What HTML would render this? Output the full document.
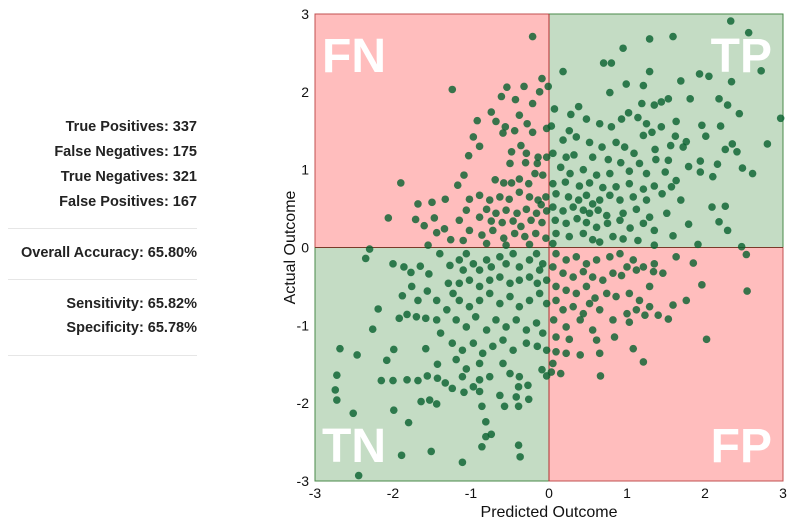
<!DOCTYPE html>
<html><head><meta charset="utf-8"><style>
body{margin:0;width:800px;height:525px;background:#fff;overflow:hidden;font-family:"Liberation Sans",sans-serif}
#panel{position:absolute;left:0;top:0;width:200px}
.st{position:absolute;right:3px;font-weight:bold;font-size:14.5px;color:#222;white-space:nowrap}
.sep{position:absolute;left:8px;width:189px;height:1px;background:#e6e6e6}
svg{position:absolute;left:0;top:0}
</style></head><body>
<div id="panel">
<div class="st" style="top:119px">True Positives: 337</div>
<div class="st" style="top:144px">False Negatives: 175</div>
<div class="st" style="top:169px">True Negatives: 321</div>
<div class="st" style="top:194px">False Positives: 167</div>
<div class="sep" style="top:228px"></div>
<div class="st" style="top:245px">Overall Accuracy: 65.80%</div>
<div class="sep" style="top:279px"></div>
<div class="st" style="top:296px">Sensitivity: 65.82%</div>
<div class="st" style="top:320px">Specificity: 65.78%</div>
<div class="sep" style="top:355px"></div>
</div>
<svg id="chart" width="800" height="525"></svg>
<script>
const xTicks=[-3,-2,-1,0,1,2,3];
const yTicks=[-3,-2,-1,0,1,2,3];
const quadrantLabels=["FN","TP","TN","FP"];
const points=[
[-0.21,2.71],[-1.24,2.03],[-0.54,2.06],[-0.32,2.07],[-0.09,2.17],[-0.01,2.07],[-0.61,1.94],[-0.43,1.90],[-0.21,1.85],[-0.12,2.0],
[-0.74,1.74],[-0.92,1.63],[-0.68,1.62],[-0.56,1.55],[-0.38,1.70],[-0.28,1.59],[-0.44,1.50],[-0.97,1.42],[-0.89,1.30],[-1.03,1.18],[-0.59,1.47],[-0.21,1.48],[-0.03,1.53],
[-0.36,1.31],[-0.48,1.23],[-0.29,1.21],[-0.14,1.16],[-0.03,1.16],[-0.50,1.08],[-0.30,1.09],[-0.15,1.08],
[-1.09,0.93],[-1.17,0.80],[-1.90,0.83],[-0.69,0.87],[-0.58,0.83],[-0.48,0.83],[-0.38,0.88],[-0.26,0.82],[-0.08,0.93],[-0.18,0.95],
[-1.02,0.62],[-0.89,0.67],[-1.68,0.56],[-1.50,0.58],[-1.33,0.62],[-2.06,0.38],[-1.71,0.36],[-1.60,0.28],[-1.47,0.38],[-1.34,0.24],[-1.44,0.19],
[-0.76,0.61],[-0.63,0.65],[-0.51,0.62],[-0.38,0.71],[-0.25,0.65],[-0.14,0.61],[-0.04,0.65],[-0.10,0.55],
[-0.80,0.49],[-0.68,0.44],[-0.55,0.48],[-0.41,0.44],[-0.29,0.49],[-0.16,0.44],[-0.03,0.47],[-1.06,0.48],
[-0.89,0.39],[-0.74,0.34],[-0.60,0.32],[-0.46,0.34],[-0.36,0.27],[-0.23,0.35],[-0.09,0.32],[-1.15,0.35],
[-1.02,0.22],[-0.86,0.16],[-0.72,0.22],[-0.58,0.12],[-0.44,0.18],[-0.31,0.14],[-0.17,0.18],[-0.04,0.12],[-1.26,0.10],[-1.10,0.09],[-1.55,0.03],[-0.80,0.05],[-0.55,0.03],[-0.25,0.04],
[2.33,2.91],[2.56,2.76],[1.59,2.71],[1.29,2.68],[0.95,2.56],[2.72,2.27],[1.29,2.26],[0.70,2.37],[0.80,2.37],[0.18,2.26],[1.69,2.14],[1.93,2.23],[2.05,2.20],[2.34,2.13],[0.99,2.10],[1.21,2.08],[0.78,1.99],
[1.53,1.91],[1.81,1.91],[2.18,1.91],[2.29,1.83],[1.19,1.85],[1.35,1.83],[2.44,1.72],[2.97,1.66],[1.44,1.87],
[0.38,1.81],[0.07,1.78],[0.28,1.71],[0.48,1.65],[0.65,1.59],[0.80,1.55],[0.93,1.65],[1.02,1.73],[1.14,1.67],[1.25,1.59],[1.44,1.55],[1.63,1.62],[1.96,1.57],[2.20,1.56],[0.03,1.56],[0.26,1.50],
[1.21,1.44],[1.32,1.48],[1.62,1.43],[1.76,1.36],[2.01,1.43],[2.35,1.33],[2.80,1.33],[2.26,1.26],[2.41,1.23],
[0.18,1.38],[0.35,1.42],[0.52,1.35],[0.68,1.29],[0.86,1.35],[0.97,1.29],[1.09,1.21],[1.36,1.26],[1.56,1.31],[1.72,1.29],
[0.05,1.21],[0.22,1.16],[0.32,1.19],[0.56,1.16],[0.76,1.13],[0.92,1.09],[1.16,1.08],[1.37,1.13],[1.53,1.12],[1.79,1.04],[1.94,1.11],[2.16,1.07],[2.48,1.02],[2.61,0.95],[2.10,0.91],[1.94,0.97],
[0.15,1.03],[0.27,0.95],[0.44,1.00],[0.61,0.93],[0.78,0.95],[1.03,0.98],[1.25,0.95],[1.49,0.97],[1.63,0.86],
[0.05,0.82],[0.21,0.84],[0.39,0.79],[0.52,0.83],[0.69,0.77],[0.86,0.78],[1.03,0.82],[1.21,0.75],[1.35,0.79],[1.57,0.78],[1.69,0.61],[2.09,0.52],[2.26,0.53],
[0.09,0.69],[0.25,0.65],[0.38,0.61],[0.48,0.67],[0.56,0.56],[0.65,0.61],[0.78,0.67],[0.91,0.61],[1.08,0.65],[1.25,0.61],[1.45,0.69],
[0.05,0.52],[0.18,0.47],[0.31,0.52],[0.44,0.48],[0.52,0.44],[0.63,0.48],[0.74,0.41],[0.95,0.44],[1.12,0.49],[1.29,0.39],[1.51,0.44],
[0.08,0.35],[0.22,0.31],[0.36,0.37],[0.48,0.32],[0.61,0.26],[0.75,0.31],[0.91,0.35],[1.04,0.25],[1.21,0.31],[1.35,0.22],[1.59,0.15],[1.79,0.30],[2.18,0.33],[2.29,0.22],
[0.09,0.18],[0.26,0.14],[0.44,0.18],[0.56,0.10],[0.82,0.14],[0.95,0.11],[1.14,0.09],[1.35,0.03],[1.91,0.04],[0.05,0.05],[0.65,0.07],
[2.47,0.01],[2.53,-0.09],[2.54,-0.56],[1.96,-0.48],[2.02,-1.18],[1.85,-0.20],[1.76,-0.68],[1.59,-0.74],[1.53,-0.92],[1.40,-0.87],[1.29,-0.50],[1.23,-0.87],[1.21,-1.47],[1.08,-1.30],[1.03,-0.96],[0.84,-1.15],[0.93,-0.36],[0.66,-1.65],[0.40,-1.38],[0.65,-1.36],
[0.09,-0.08],[0.22,-0.16],[0.35,-0.12],[0.48,-0.21],[0.61,-0.16],[0.78,-0.12],[0.91,-0.08],[1.08,-0.16],[1.21,-0.25],[1.35,-0.21],[1.46,-0.33],[1.63,-0.12],
[0.05,-0.25],[0.18,-0.33],[0.31,-0.38],[0.44,-0.31],[0.56,-0.38],[0.69,-0.42],[0.82,-0.33],[1.00,-0.25],[1.12,-0.29],[1.34,-0.31],
[0.09,-0.50],[0.22,-0.55],[0.35,-0.59],[0.48,-0.50],[0.59,-0.65],[0.74,-0.59],[0.86,-0.63],[1.03,-0.59],[1.16,-0.68],[1.29,-0.76],
[0.09,-0.68],[0.18,-0.80],[0.31,-0.76],[0.44,-0.85],[0.52,-0.72],[0.65,-0.80],[0.82,-0.93],[1.00,-0.85],[1.12,-0.80],
[0.06,-0.93],[0.22,-1.02],[0.40,-0.93],[0.56,-1.06],[0.61,-1.19],[0.26,-1.18],[0.09,-1.15],[0.09,-1.34],[0.22,-1.36],[0.05,-1.49],[0.15,-1.62],[0.03,-1.60],
[-2.44,-2.93],[-1.11,-2.76],[-1.89,-2.67],[-1.51,-2.62],[-0.37,-2.69],[-0.86,-2.56],[-0.39,-2.54],[-0.81,-2.43],[-0.74,-2.40],[-0.81,-2.24],[-1.80,-2.25],[-2.51,-2.13],[-1.99,-2.09],[-2.74,-1.83],[-2.72,-1.96],[-2.72,-1.64],[-2.68,-1.30],[-2.46,-1.38],[-2.26,-1.05],[-2.19,-0.79],[-2.15,-1.71],[-2.08,-1.45],[-2.00,-1.71],[-1.99,-1.31],[-1.82,-1.70],[-1.68,-1.71],[-1.64,-1.98],[-1.53,-1.96],[-1.44,-2.01],[-1.56,-1.65],[-1.43,-1.68],[-1.33,-1.74],[-1.24,-1.81],[-1.43,-1.50],[-1.58,-1.30],
[-2.35,-0.14],[-2.30,-0.02],[-2.00,-0.21],[-1.86,-0.25],[-1.77,-0.32],[-1.65,-0.24],[-1.54,-0.34],[-1.92,-0.91],[-1.82,-0.86],[-1.70,-0.89],[-1.88,-0.62],[-1.76,-0.50],[-1.68,-0.68],[-1.56,-0.56],[-1.44,-0.68],[-1.58,-0.91],[-1.44,-0.93],[-1.39,-1.10],[-1.31,-0.80],[-1.23,-0.59],[-1.29,-0.46],
[-1.15,-0.16],[-1.06,-0.08],[-0.97,-0.21],[-1.10,-0.29],[-0.89,-0.29],[-0.80,-0.16],[-0.74,-0.25],[-0.63,-0.12],[-0.55,-0.21],[-0.46,-0.08],[-0.38,-0.25],[-0.25,-0.16],[-0.16,-0.08],[-0.08,-0.21],[-1.40,-0.08],[-1.27,-0.23],
[-1.15,-0.46],[-1.02,-0.42],[-0.89,-0.50],[-0.76,-0.42],[-0.63,-0.38],[-0.50,-0.46],[-0.38,-0.42],[-0.25,-0.38],[-0.15,-0.46],[-0.03,-0.42],[-0.12,-0.29],
[-1.15,-0.68],[-1.02,-0.76],[-0.89,-0.68],[-0.76,-0.59],[-0.63,-0.72],[-0.50,-0.63],[-0.38,-0.76],[-0.25,-0.68],[-0.12,-0.59],[-0.03,-0.72],
[-1.19,-0.93],[-1.06,-1.02],[-0.94,-0.89],[-0.80,-1.06],[-0.68,-0.93],[-0.55,-1.02],[-0.42,-0.93],[-0.29,-1.06],[-0.16,-0.97],[-0.08,-1.10],
[-1.24,-1.23],[-1.11,-1.32],[-0.97,-1.23],[-0.85,-1.36],[-0.72,-1.27],[-0.59,-1.19],[-0.46,-1.32],[-0.29,-1.23],[-0.15,-1.27],[-0.03,-1.32],
[-1.19,-1.44],[-1.06,-1.56],[-0.89,-1.49],[-0.76,-1.66],[-0.59,-1.49],[-0.50,-1.62],[-0.38,-1.66],[-0.09,-1.57],[-0.03,-1.65],[-1.11,-1.66],[-0.97,-1.79],[-0.89,-1.70],[-1.09,-1.86],[-0.89,-1.85],[-0.63,-1.90],[-0.39,-1.79],[-0.27,-1.77],[-0.42,-1.92],[-0.26,-1.95],[-0.86,-2.04],[-0.57,-2.04],[-0.39,-2.04]
];
const NS="http://www.w3.org/2000/svg";
const svg=document.getElementById('chart');
const L=315,R=783,T=14,B=481;
const sx=v=>L+(v+3)/6*(R-L);
const sy=v=>B-(v+3)/6*(B-T);
function mk(tag,attrs,parent){const e=document.createElementNS(NS,tag);for(const k in attrs)e.setAttribute(k,attrs[k]);(parent||svg).appendChild(e);return e;}
const cx0=sx(0),cy0=sy(0);
const quads=[[L,T,cx0-L,cy0-T,'#ffbdbd','#c05050','quadrant-fn'],[cx0,T,R-cx0,cy0-T,'#c4dcc4','#4a8a4a','quadrant-tp'],[L,cy0,cx0-L,B-cy0,'#c4dcc4','#4a8a4a','quadrant-tn'],[cx0,cy0,R-cx0,B-cy0,'#ffbdbd','#c05050','quadrant-fp']];
quads.forEach(q=>{const r=mk('rect',{x:q[0],y:q[1],width:q[2],height:q[3],fill:q[4],stroke:q[5],'stroke-width':1});

});
const lblPos=[[322,72,'start'],[772,72,'end'],[322,462,'start'],[772,462,'end']];
quadrantLabels.forEach((t,i)=>{const e=mk('text',{x:lblPos[i][0],y:lblPos[i][1],'text-anchor':lblPos[i][2],fill:'#fff','font-size':48,'font-weight':'bold','font-family':'Liberation Sans, sans-serif'});e.textContent=t;

});
const vl=mk('line',{x1:cx0,y1:T,x2:cx0,y2:B,stroke:'#b03030','stroke-width':1});


const hl=mk('line',{x1:L,y1:cy0,x2:R,y2:cy0,stroke:'#7a3a2a','stroke-width':1});


const g=mk('g',{});


points.forEach(p=>{const c=mk('circle',{cx:sx(p[0]),cy:sy(p[1]),r:3.8,fill:'#08602e','fill-opacity':0.8},g);

});
xTicks.forEach(v=>{const t=mk('text',{x:sx(v),y:B+17,'text-anchor':'middle','font-size':14,fill:'#111','font-family':'Liberation Sans, sans-serif'});t.textContent=v;

});
yTicks.forEach(v=>{const t=mk('text',{x:L-6,y:sy(v)+5,'text-anchor':'end','font-size':14,fill:'#111','font-family':'Liberation Sans, sans-serif'});t.textContent=v;

});
const xt=mk('text',{x:(L+R)/2,y:517,'text-anchor':'middle','font-size':16,fill:'#111','font-family':'Liberation Sans, sans-serif'});xt.textContent='Predicted Outcome';


const yt=mk('text',{x:0,y:0,'text-anchor':'middle','font-size':16,fill:'#111','font-family':'Liberation Sans, sans-serif',transform:'translate(295,'+((T+B)/2)+') rotate(-90)'});yt.textContent='Actual Outcome';


</script>
</body></html>
